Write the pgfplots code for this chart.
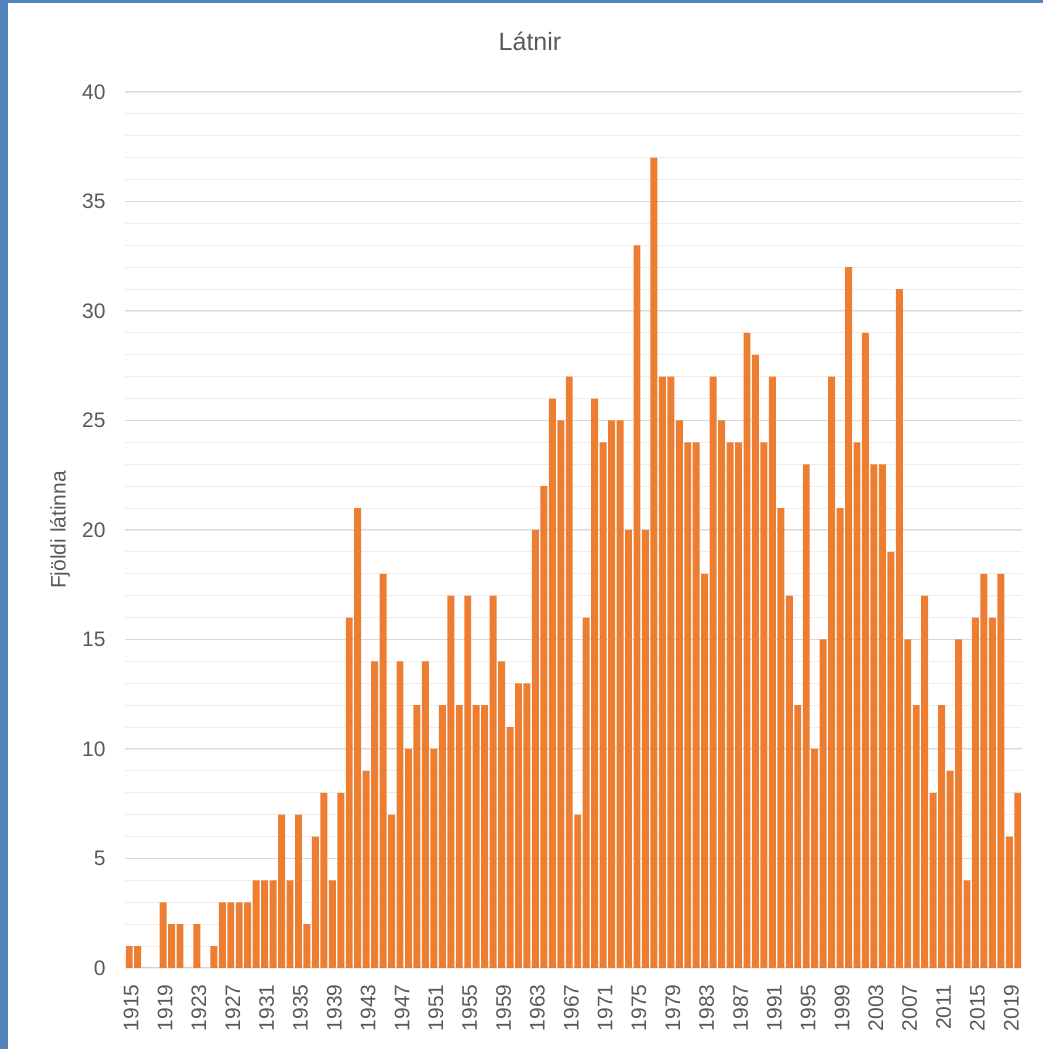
\documentclass[border=0pt]{standalone}
\usepackage{pgfplots}
\pgfplotsset{compat=1.18}
\usepackage{pgfplotstable}
\usepackage{fontspec}
\setmainfont{Liberation Sans}
\definecolor{barorange}{HTML}{ED7D31}
\definecolor{txtgray}{HTML}{595959}
\definecolor{majgrid}{HTML}{D9D9D9}
\definecolor{mingrid}{HTML}{EDEDED}
\definecolor{frameblue}{RGB}{84,130,188}
\pgfplotstableread{
year value
1915 1
1916 1
1917 0
1918 0
1919 3
1920 2
1921 2
1922 0
1923 2
1924 0
1925 1
1926 3
1927 3
1928 3
1929 3
1930 4
1931 4
1932 4
1933 7
1934 4
1935 7
1936 2
1937 6
1938 8
1939 4
1940 8
1941 16
1942 21
1943 9
1944 14
1945 18
1946 7
1947 14
1948 10
1949 12
1950 14
1951 10
1952 12
1953 17
1954 12
1955 17
1956 12
1957 12
1958 17
1959 14
1960 11
1961 13
1962 13
1963 20
1964 22
1965 26
1966 25
1967 27
1968 7
1969 16
1970 26
1971 24
1972 25
1973 25
1974 20
1975 33
1976 20
1977 37
1978 27
1979 27
1980 25
1981 24
1982 24
1983 18
1984 27
1985 25
1986 24
1987 24
1988 29
1989 28
1990 24
1991 27
1992 21
1993 17
1994 12
1995 23
1996 10
1997 15
1998 27
1999 21
2000 32
2001 24
2002 29
2003 23
2004 23
2005 19
2006 31
2007 15
2008 12
2009 17
2010 8
2011 12
2012 9
2013 15
2014 4
2015 16
2016 18
2017 16
2018 18
2019 6
2020 8
}\data
\begin{document}
\begin{tikzpicture}
\useasboundingbox (0,0) rectangle (1043pt,1049pt);
\fill[white] (0,0) rectangle (1043pt,1049pt);
\fill[frameblue] (0,0) rectangle (8pt,1049pt);
\fill[frameblue] (0,1046pt) rectangle (1043pt,1049pt);
\begin{axis}[
  at={(125pt,81pt)}, anchor=south west,
  width=897pt, height=876pt, scale only axis,
  xmin=1914.5, xmax=2020.5, ymin=0, ymax=40,
  ybar, bar width=0.82,
  axis line style={draw=none},
  major tick length=0pt, minor tick length=0pt,
  xtick={1915,1919,...,2019},
  ytick={0,5,...,40},
  minor ytick={0,1,...,40},
  ymajorgrids, yminorgrids,
  major grid style={majgrid, line width=1pt},
  minor grid style={mingrid, line width=0.8pt},
  /pgf/number format/1000 sep={},
  /pgf/number format/assume math mode=true,
  tick label style={font=\fontsize{21}{24}\selectfont, text=txtgray},
  xticklabel style={rotate=90, anchor=east, yshift=-2pt, xshift=-13pt},
  yticklabel style={xshift=-16pt},
  every axis y label/.style={at={(axis description cs:-0.0725,0.5)}, rotate=90, anchor=center},
  ylabel={Fjöldi látinna},
  ylabel style={font=\fontsize{21}{24}\selectfont, text=txtgray},
  every axis title/.style={at={(axis description cs:0.4515,1.0582)}, anchor=center},
  title={Látnir},
  title style={font=\fontsize{25}{28}\selectfont, text=txtgray},
  axis on top=false,
]
\addplot[fill=barorange, draw=none] table[x=year, y=value] {\data};
\end{axis}
\end{tikzpicture}
\end{document}
